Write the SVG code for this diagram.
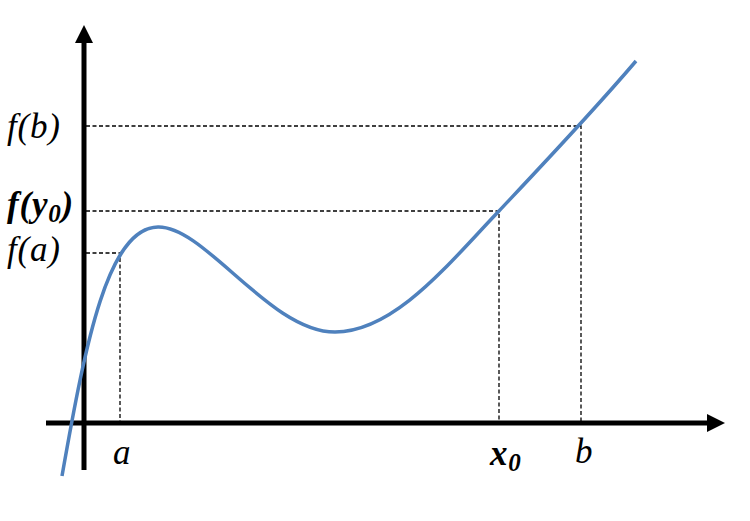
<svg xmlns="http://www.w3.org/2000/svg" width="750" height="521" viewBox="0 0 750 521">
<style>
.axis{stroke:#000;stroke-width:5;fill:none}
.dash{stroke:#000;stroke-width:1.3;stroke-dasharray:4,2.5;fill:none}
.curve{stroke:#4F81BD;stroke-width:3.5;fill:none}
.lbl{font-family:"Liberation Serif","Times New Roman",serif;font-style:italic;font-size:35px;letter-spacing:0.8px;fill:#000}
.b{font-weight:bold}
</style>
<rect width="750" height="521" fill="#fff"/>
<g id="guides">
<path class="dash" d="M86,126H581V421"/>
<path class="dash" d="M86,211H499V421"/>
<path class="dash" d="M86,253H120V421"/>
</g>
<g id="axes">
<path class="axis" d="M84,470V40"/>
<polygon points="84,25 75,43 93,43" fill="#000"/>
<path class="axis" d="M46,423H708"/>
<polygon points="725,423 707,414 707,432" fill="#000"/>
</g>
<g id="curve">
<path class="curve" d="M62,476C86,340 108,228 158,227C205,226 270,332 335,332C395,332 450,262 499,211C530,178 590,115 636,61"/>
</g>
<g id="labels">
<text class="lbl" x="7" y="138">f(b)</text>
<text class="lbl b" x="7" y="216">f(y<tspan font-size="25" dy="6">0</tspan><tspan dy="-6">)</tspan></text>
<text class="lbl" x="7" y="261">f(a)</text>
<text class="lbl" x="113" y="464">a</text>
<text class="lbl b" x="490" y="465">x<tspan font-size="25" dy="6">0</tspan></text>
<text class="lbl" x="575" y="463">b</text>
</g>
</svg>
